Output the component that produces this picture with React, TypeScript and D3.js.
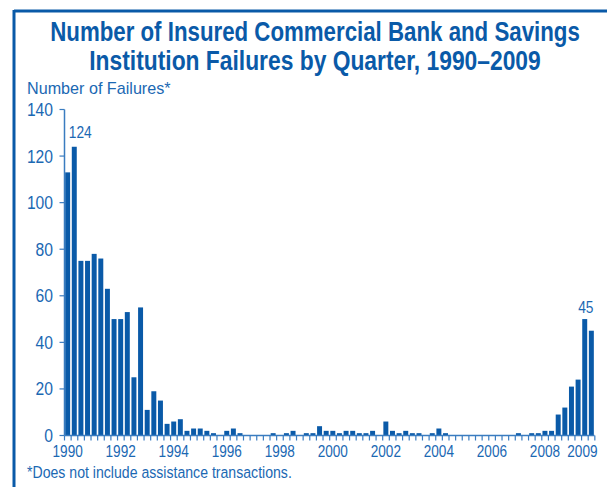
import React from 'react';
import * as d3 from 'd3';

// Failures per quarter, 1990 Q1 .. 2009 Q4
const years = d3.range(1990, 2010);
const quarterNames = ['Q1', 'Q2', 'Q3', 'Q4'];
const failures = [
  113, 124, 75, 75, // 1990
  78, 76, 63, 50,   // 1991
  50, 53, 25, 55,   // 1992
  11, 19, 15, 5,    // 1993
  6, 7, 2, 3,       // 1994
  3, 2, 1, 0,       // 1995
  2, 3, 1, 0,       // 1996
  0, 0, 0, 1,       // 1997
  0, 1, 2, 0,       // 1998
  1, 1, 4, 2,       // 1999
  2, 1, 2, 2,       // 2000
  1, 1, 2, 0,       // 2001
  6, 2, 1, 2,       // 2002
  1, 1, 0, 1,       // 2003
  3, 1, 0, 0,       // 2004
  0, 0, 0, 0,       // 2005
  0, 0, 0, 0,       // 2006
  1, 0, 1, 1,       // 2007
  2, 2, 9, 12,      // 2008
  21, 24, 50, 45,   // 2009
];
const yTicks = [0, 20, 40, 60, 80, 100, 120, 140];
const yearLabels = ['1990', '1992', '1994', '1996', '1998', '2000', '2002', '2004', '2006', '2008'];
const lastYearLabel = '2009';
const callouts = [
  { key: '1990-Q2', label: '124' },
  { key: '2009-Q4', label: '45' },
];

const quarters = years.flatMap(y => quarterNames.map(q => `${y}-${q}`));
const data = quarters.map((key, i) => ({ key, value: failures[i] }));

const W = 607;
const H = 487;
const BAR = '#0a5aa8';
const TEXT = '#1b68b3';
const AXIS = '#3a7cc0';
const FONT = '"Liberation Sans", Arial, sans-serif';

// condensed text: Liberation Sans squeezed horizontally
const NText = ({ x, y, sx, size, anchor = 'start', weight = 'normal', fill = TEXT, dy, children }: any) => (
  <text transform={`translate(${x},${y}) scale(${sx},1)`} textAnchor={anchor} fontSize={size}
    fontWeight={weight} fill={fill} dy={dy}>{children}</text>
);

export default function App() {
  const x = d3.scaleBand<string>().domain(quarters).range([64.5, 594.5]).paddingInner(0.25).paddingOuter(0.1);
  const y = d3.scaleLinear().domain([0, 140]).range([435.5, 109.5]);
  const step = x.step();
  const x0 = x.range()[0];
  const x1 = x.range()[1];
  const boundaries = d3.range(quarters.length + 1).map(i => x0 + i * step);

  return (
    <div style={{ position: 'absolute', left: 0, top: 0, width: W, height: H, background: '#fff' }}>
      <svg width={W} height={H} style={{ display: 'block', fontFamily: FONT }}>
        {/* frame */}
        <line x1={14} y1={11} x2={W} y2={11} stroke={BAR} strokeWidth={3} />
        <line x1={14} y1={10} x2={14} y2={H} stroke={BAR} strokeWidth={3} />

        {/* title */}
        <NText x={315} y={41} sx={0.81} size={27.5} anchor="middle" weight="bold" fill={BAR}>
          Number of Insured Commercial Bank and Savings
        </NText>
        <NText x={315} y={70} sx={0.83} size={27.5} anchor="middle" weight="bold" fill={BAR}>
          Institution Failures by Quarter, 1990–2009
        </NText>

        <NText x={27} y={94} sx={0.95} size={17}>Number of Failures*</NText>

        {/* bars */}
        {data.map(d => (
          <rect key={d.key} x={x(d.key)} y={y(d.value)} width={x.bandwidth()}
            height={y(0) - y(d.value)} fill={BAR} />
        ))}

        {/* y axis */}
        <line x1={x0} y1={y(0)} x2={x0} y2={y(140)} stroke={AXIS} strokeWidth={1.5} />
        {yTicks.map(t => (
          <g key={t}>
            <line x1={x0 - 5} x2={x0} y1={y(t)} y2={y(t)} stroke={AXIS} strokeWidth={1.2} />
            <NText x={53} y={y(t)} dy="0.36em" sx={0.87} size={18} anchor="end">{t}</NText>
          </g>
        ))}

        {/* x axis */}
        <line x1={x0} y1={y(0)} x2={x1} y2={y(0)} stroke={AXIS} strokeWidth={1.5} />
        {boundaries.map((bx, i) => (
          <line key={i} x1={bx} x2={bx} y1={y(0)} y2={y(0) + 5} stroke={AXIS} strokeWidth={1.2} />
        ))}
        {yearLabels.map(label => (
          <NText key={label} x={(x(`${label}-Q1`) ?? 0) + x.bandwidth() / 2} y={457}
            sx={0.8} size={17} anchor="middle">{label}</NText>
        ))}
        <NText x={x1 + 3} y={457} sx={0.8} size={17} anchor="end">{lastYearLabel}</NText>

        {/* callouts */}
        <NText x={(x(callouts[0].key) ?? 0) - 3} y={y(124) - 9} sx={0.86} size={16}>{callouts[0].label}</NText>
        <NText x={(x(callouts[1].key) ?? 0) - 3} y={y(50) - 6} sx={0.86} size={16} anchor="middle">{callouts[1].label}</NText>

        <NText x={27} y={478} sx={0.82} size={17.2}>*Does not include assistance transactions.</NText>
      </svg>
    </div>
  );
}
